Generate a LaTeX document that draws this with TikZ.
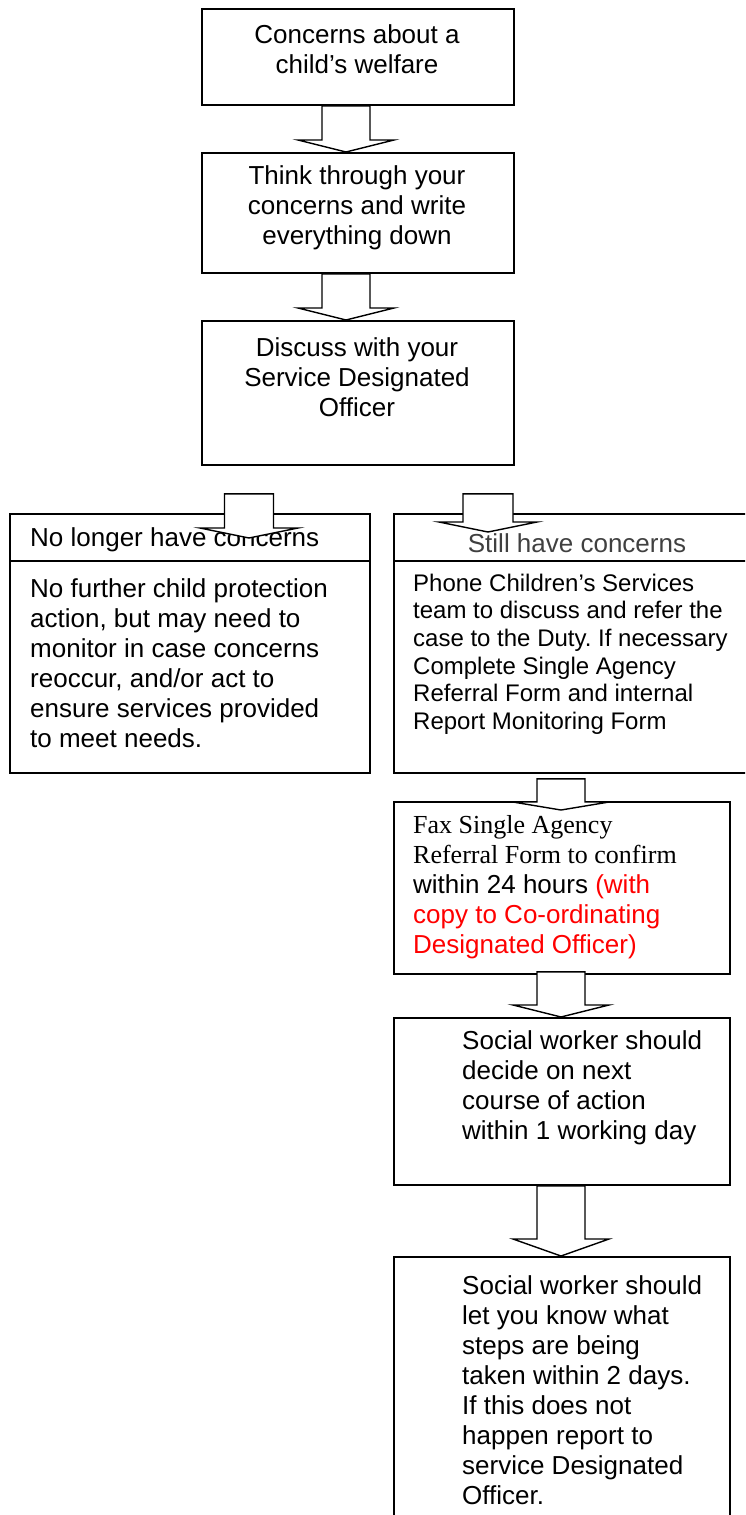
\documentclass[tikz,border=0pt]{standalone}
\usepackage{fontspec}
\setmainfont{Liberation Sans}
\newfontfamily\timesfont{Liberation Serif}
\usetikzlibrary{calc}
\frenchspacing
\definecolor{titlegray}{RGB}{64,64,64}
\definecolor{redtext}{RGB}{255,0,0}
\newcommand\blockarrow[5]{%
  \draw[blk] ($(#1)+(-#3,0)$) -- ($(#2)+(-#3,-#5)$) -- ($(#2)+(-#4,-#5)$) -- (#2)
    -- ($(#2)+(#4,-#5)$) -- ($(#2)+(#3,-#5)$) -- ($(#1)+(#3,0)$) -- cycle;}
\begin{document}
\frenchspacing
\begin{tikzpicture}[x=1pt,y=-1pt,
  box/.style={draw,line width=1.8pt,rectangle,inner sep=0pt,anchor=north west},
  blk/.style={draw,fill=white,line width=1.4pt,line join=miter},
  txt/.style={inner sep=0pt,font=\fontsize{26}{30}\selectfont},
  smalltxt/.style={inner sep=0pt,font=\fontsize{24}{27.6}\selectfont},
  sepline/.style={line width=1.8pt}]
\useasboundingbox (0,0) rectangle (745,1515);
\clip (0,0) rectangle (745,1515);
% boxes
\node[box,minimum width=312pt,minimum height=96pt] (b1) at (201,8) {};
\node[box,minimum width=312pt,minimum height=120pt] (b2) at (201,152) {};
\node[box,minimum width=312pt,minimum height=144pt] (b3) at (201,320) {};
\node[box,minimum width=360pt,minimum height=259pt] (bL) at (9,513) {};
\node[box,minimum width=368pt,minimum height=259pt] (bR) at (393,513) {};
\node[box,minimum width=336pt,minimum height=172pt] (fax) at (393,801) {};
\node[box,minimum width=336pt,minimum height=167pt] (b5) at (393,1017) {};
\node[box,minimum width=336pt,minimum height=290pt] (b6) at (393,1256) {};
% header separators
\coordinate (sep) at (0,561);
\draw[sepline] (bL.west |- sep) -- (bL.east |- sep);
\draw[sepline] (bR.west |- sep) -- (bR.east |- sep);
% texts
\node[txt,align=center] (t1) at (357,49) {Concerns about a\\child’s welfare};
\node[txt,align=center] (t2) at (357,208) {Think through your\\concerns and write\\everything down};
\node[txt,align=center] (t3) at (357,377) {Discuss with your\\Service Designated\\Officer};
\node[txt,anchor=west] (tLh) at (30,540) {No longer have concerns};
\node[txt,anchor=west,align=left] (tL) at (30,663) {No further child protection\\action, but may need to\\monitor in case concerns\\reoccur, and/or act to\\ensure services provided\\to meet needs.};
\node[txt,text=titlegray] (tRh) at (577,543) {Still have concerns};
\node[smalltxt,anchor=west,align=left] (tR) at (413,654) {Phone Children’s Services\\team to discuss and refer the\\case to the Duty. If necessary\\Complete Single Agency\\Referral Form and internal\\Report Monitoring Form};
\node[txt,anchor=west,align=left] (tF) at (413,887) {\timesfont Fax Single Agency\\\timesfont Referral Form to confirm\\\rmfamily within 24 hours \textcolor{redtext}{(with}\\\rmfamily\textcolor{redtext}{copy to Co-ordinating}\\\rmfamily\textcolor{redtext}{Designated Officer)}};
\node[txt,anchor=west,align=left] (t5) at (462,1088) {Social worker should\\decide on next\\course of action\\within 1 working day};
\node[txt,anchor=west,align=left] (t6) at (462,1390) {Social worker should\\let you know what\\steps are being\\taken within 2 days.\\If this does not\\happen report to\\service Designated\\Officer.};
% arrow axes
\coordinate (c1) at (346,0);
\coordinate (cL) at (249,0);
\coordinate (cR) at (488,0);
\coordinate (c3) at (561,0);
\coordinate (a1s) at (b1.south -| c1);
\coordinate (a1e) at (b2.north -| c1);
\coordinate (a2s) at (b2.south -| c1);
\coordinate (a2e) at (b3.north -| c1);
\coordinate (aLs) at ($(b3.south -| cL)+(0,28)$);
\coordinate (aLe) at ($(bL.north -| cL)+(0,25)$);
\coordinate (aRs) at ($(b3.south -| cR)+(0,28)$);
\coordinate (aRe) at ($(bR.north -| cR)+(0,19)$);
\coordinate (a3s) at ($(bR.south -| c3)+(0,5)$);
\coordinate (a3e) at ($(fax.north -| c3)+(0,9)$);
\coordinate (a4s) at ($(fax.south -| c3)+(0,-3)$);
\coordinate (a4e) at (b5.north -| c3);
\coordinate (a5s) at (b5.south -| c3);
\coordinate (a5e) at (b6.north -| c3);
% block arrows
\blockarrow{a1s}{a1e}{24}{48}{12}
\blockarrow{a2s}{a2e}{24}{48}{12}
\blockarrow{aLs}{aLe}{24.5}{49}{10}
\blockarrow{aRs}{aRe}{25}{49}{10}
\blockarrow{a3s}{a3e}{24}{48}{8}
\blockarrow{a4s}{a4e}{24}{48}{12}
\blockarrow{a5s}{a5e}{24}{48}{17}
\end{tikzpicture}
\end{document}
